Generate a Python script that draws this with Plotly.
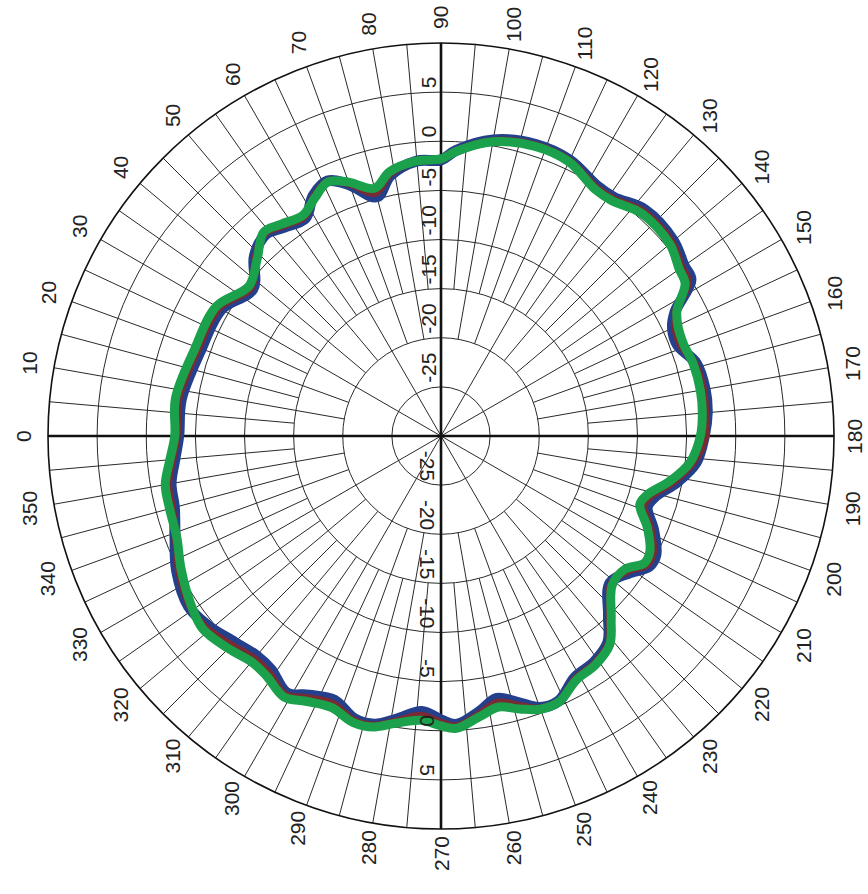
import math
import plotly.graph_objects as go

# Measured pattern, dB versus azimuth (degrees)
theta = [0, 8, 19, 30, 38, 44, 49, 53, 58, 62, 66, 70, 75, 79, 85, 90, 93, 100,
         108, 115, 122, 126, 132, 140, 145, 148, 152, 155, 159, 164, 170, 175,
         180, 186, 191, 196, 199, 204, 209, 212, 216, 221, 227, 231, 236, 241,
         246, 250, 254, 258, 262, 267, 270, 274, 279, 283, 287, 292, 297, 301,
         306, 310, 315, 321, 326, 333, 339, 345, 350, 355, 360]

blue = [-3.3, -3.3, -4.0, -4.2, -5.7, -3.6, -2.8, -3.4, -3.9, -2.3, -1.6, -2.8,
        -4.8, -3.0, -1.9, -1.9, -0.9, 0.6, 1.2, 1.0, 0.0, 0.0, 1.0, 0.9, 0.2,
        0.0, -3.0, -4.0, -4.2, -3.0, -2.7, -2.8, -3.2, -3.9, -5.5, -7.4, -7.8,
        -6.3, -5.0, -5.0, -6.3, -7.2, -5.0, -3.0, -2.2, -1.9, -0.5, -0.6, -1.8,
        -2.7, -1.7, -0.6, -1.1, -1.9, -0.8, 0.1, 0.1, -1.0, -0.4, 0.5, -0.6,
        -0.8, -0.3, 0.6, 1.0, 0.2, -1.0, -1.9, -2.1, -2.8, -3.3]

red = [-3.1, -3.0, -3.7, -3.9, -5.45, -3.8, -2.65, -3.2, -3.7, -2.45, -1.65,
       -2.65, -4.35, -2.8, -1.9, -1.85, -0.95, 0.5, 1.1, 0.9, -0.2, -0.2, 0.75,
       0.65, -0.1, -0.35, -2.9, -3.7, -3.9, -3.15, -2.9, -3.0, -3.1, -4.2,
       -5.85, -7.8, -8.2, -6.65, -5.35, -5.3, -6.6, -7.05, -4.8, -2.85, -2.05,
       -1.75, -0.45, -0.5, -1.45, -2.25, -1.45, -0.4, -0.8, -1.45, -0.6, 0.25,
       0.3, -0.6, -0.05, 0.75, -0.2, -0.4, 0.15, 0.9, 0.85, -0.05, -1.1, -1.65,
       -1.8, -2.55, -3.1]

green = [-2.9, -2.7, -3.4, -3.6, -5.2, -4.0, -2.5, -3.0, -3.5, -2.6, -1.7, -2.5,
         -3.9, -2.6, -1.9, -1.8, -1.0, 0.4, 1.0, 0.8, -0.4, -0.4, 0.5, 0.4, -0.4,
         -0.7, -2.8, -3.4, -3.6, -3.3, -3.2, -3.3, -3.6, -4.5, -6.2, -8.2, -8.6,
         -7.0, -5.7, -5.6, -6.9, -6.9, -4.6, -2.7, -1.9, -1.6, -0.4, -0.4, -1.1,
         -1.8, -1.2, -0.2, -0.5, -1.0, -0.4, 0.4, 0.5, -0.2, 0.3, 1.0, 0.2, 0.0,
         0.6, 1.2, 0.7, -0.3, -1.2, -1.4, -1.5, -2.3, -2.9]

# Axis scales and labels
r_min, r_max = -30, 10
ring_values = [-25, -20, -15, -10, -5, 0, 5]
ring_labels = ["-25", "-20", "-15", "-10", "-5", "0", "5"]
angle_ticks = list(range(0, 360, 10))

FONT = "Liberation Sans, Arial, sans-serif"
FONT_SIZE = 21
GRID = "#2a2a2a"
TEXT = "#222222"

# Page and plot-circle geometry (pixels)
W, H = 868, 894
CX, CY, R = 441, 436, 393
LABEL_GAP = 25
PX_PER_DB = R / (r_max - r_min)

fig = go.Figure()

# Spokes: every 30 deg from the centre, every 10 deg from the -20 ring,
# every 5 deg from the -15 ring
sp_r, sp_t = [], []
for a in range(0, 360, 5):
    if a % 90 == 0:
        continue
    if a % 30 == 0:
        start = r_min
    elif a % 10 == 0:
        start = -20
    else:
        start = -15
    sp_r += [start, r_max, None]
    sp_t += [a, a, None]
fig.add_trace(go.Scatterpolar(r=sp_r, theta=sp_t, mode="lines",
                              line=dict(color=GRID, width=1),
                              hoverinfo="skip", showlegend=False))

# Heavy 0-180 and 90-270 axes
fig.add_trace(go.Scatterpolar(r=[r_max, r_max, None, r_max, r_max],
                              theta=[0, 180, None, 90, 270], mode="lines",
                              line=dict(color="#111111", width=2.6),
                              hoverinfo="skip", showlegend=False))

for vals, col, w in [(blue, "#24408c", 11), (red, "#7a2a33", 8), (green, "#1ba14b", 9)]:
    fig.add_trace(go.Scatterpolar(r=vals, theta=theta, mode="lines",
                                  line=dict(color=col, width=w, shape="spline",
                                            smoothing=1.0),
                                  showlegend=False))

# Invisible anchors so the label-only overlays are rendered
for sub in ["polar2", "polar3"]:
    fig.add_trace(go.Scatterpolar(r=[r_min], theta=[0], mode="markers",
                                  marker=dict(size=1, opacity=0),
                                  hoverinfo="skip", showlegend=False,
                                  subplot=sub))

dom = dict(x=[(CX - R) / W, (CX + R) / W],
           y=[(H - CY - R) / H, (H - CY + R) / H])

fig.update_layout(
    width=W, height=H,
    margin=dict(l=0, r=0, t=0, b=0),
    paper_bgcolor="white",
    showlegend=False,
    font=dict(family=FONT, size=FONT_SIZE, color=TEXT),
    polar=dict(
        domain=dom,
        bgcolor="white",
        radialaxis=dict(range=[r_min, r_max], tickmode="array",
                        tickvals=ring_values, showticklabels=False,
                        showgrid=True, gridcolor=GRID, gridwidth=1,
                        showline=False, ticks=""),
        angularaxis=dict(rotation=180, direction="clockwise",
                         tickmode="array", tickvals=angle_ticks,
                         showticklabels=False, ticks="", showgrid=False,
                         showline=True, linecolor="#111111", linewidth=1.6),
    ),
)


# Ring labels start at their ring and run upward, on both vertical half-axes:
# shift each tick by half its text length (approximate glyph advances).
def label_shift(txt):
    width_px = FONT_SIZE * sum(0.333 if ch == "-" else 0.556 for ch in txt)
    return (width_px / 2 + 4) / PX_PER_DB


for name, ang, side, sign in [("polar2", 90, "counterclockwise", 1),
                              ("polar3", 270, "clockwise", -1)]:
    fig.update_layout({name: dict(
        domain=dom,
        bgcolor="rgba(0,0,0,0)",
        radialaxis=dict(range=[r_min, r_max], angle=ang, side=side,
                        tickmode="array",
                        tickvals=[v + sign * label_shift(t)
                                  for v, t in zip(ring_values, ring_labels)],
                        ticktext=ring_labels, showgrid=False, showline=False,
                        ticks="",
                        tickfont=dict(family=FONT, size=FONT_SIZE, color=TEXT)),
        angularaxis=dict(visible=False, rotation=180, direction="clockwise"),
    )})

# Azimuth labels, turned a quarter turn and centred just outside the rim;
# kept fully on the page (the text box is about 1.2 em across when turned)
half_box = 0.62 * FONT_SIZE
for a in angle_ticks:
    rad = math.radians(a)
    px = CX - (R + LABEL_GAP) * math.cos(rad)
    py = CY - (R + LABEL_GAP) * math.sin(rad)
    px = min(max(px, half_box), W - half_box)
    fig.add_annotation(x=px / W, y=1 - py / H, xref="paper", yref="paper",
                       text=str(a), showarrow=False, textangle=-90,
                       xanchor="center", yanchor="middle",
                       font=dict(family=FONT, size=FONT_SIZE, color=TEXT))

fig.write_html("out.html")
